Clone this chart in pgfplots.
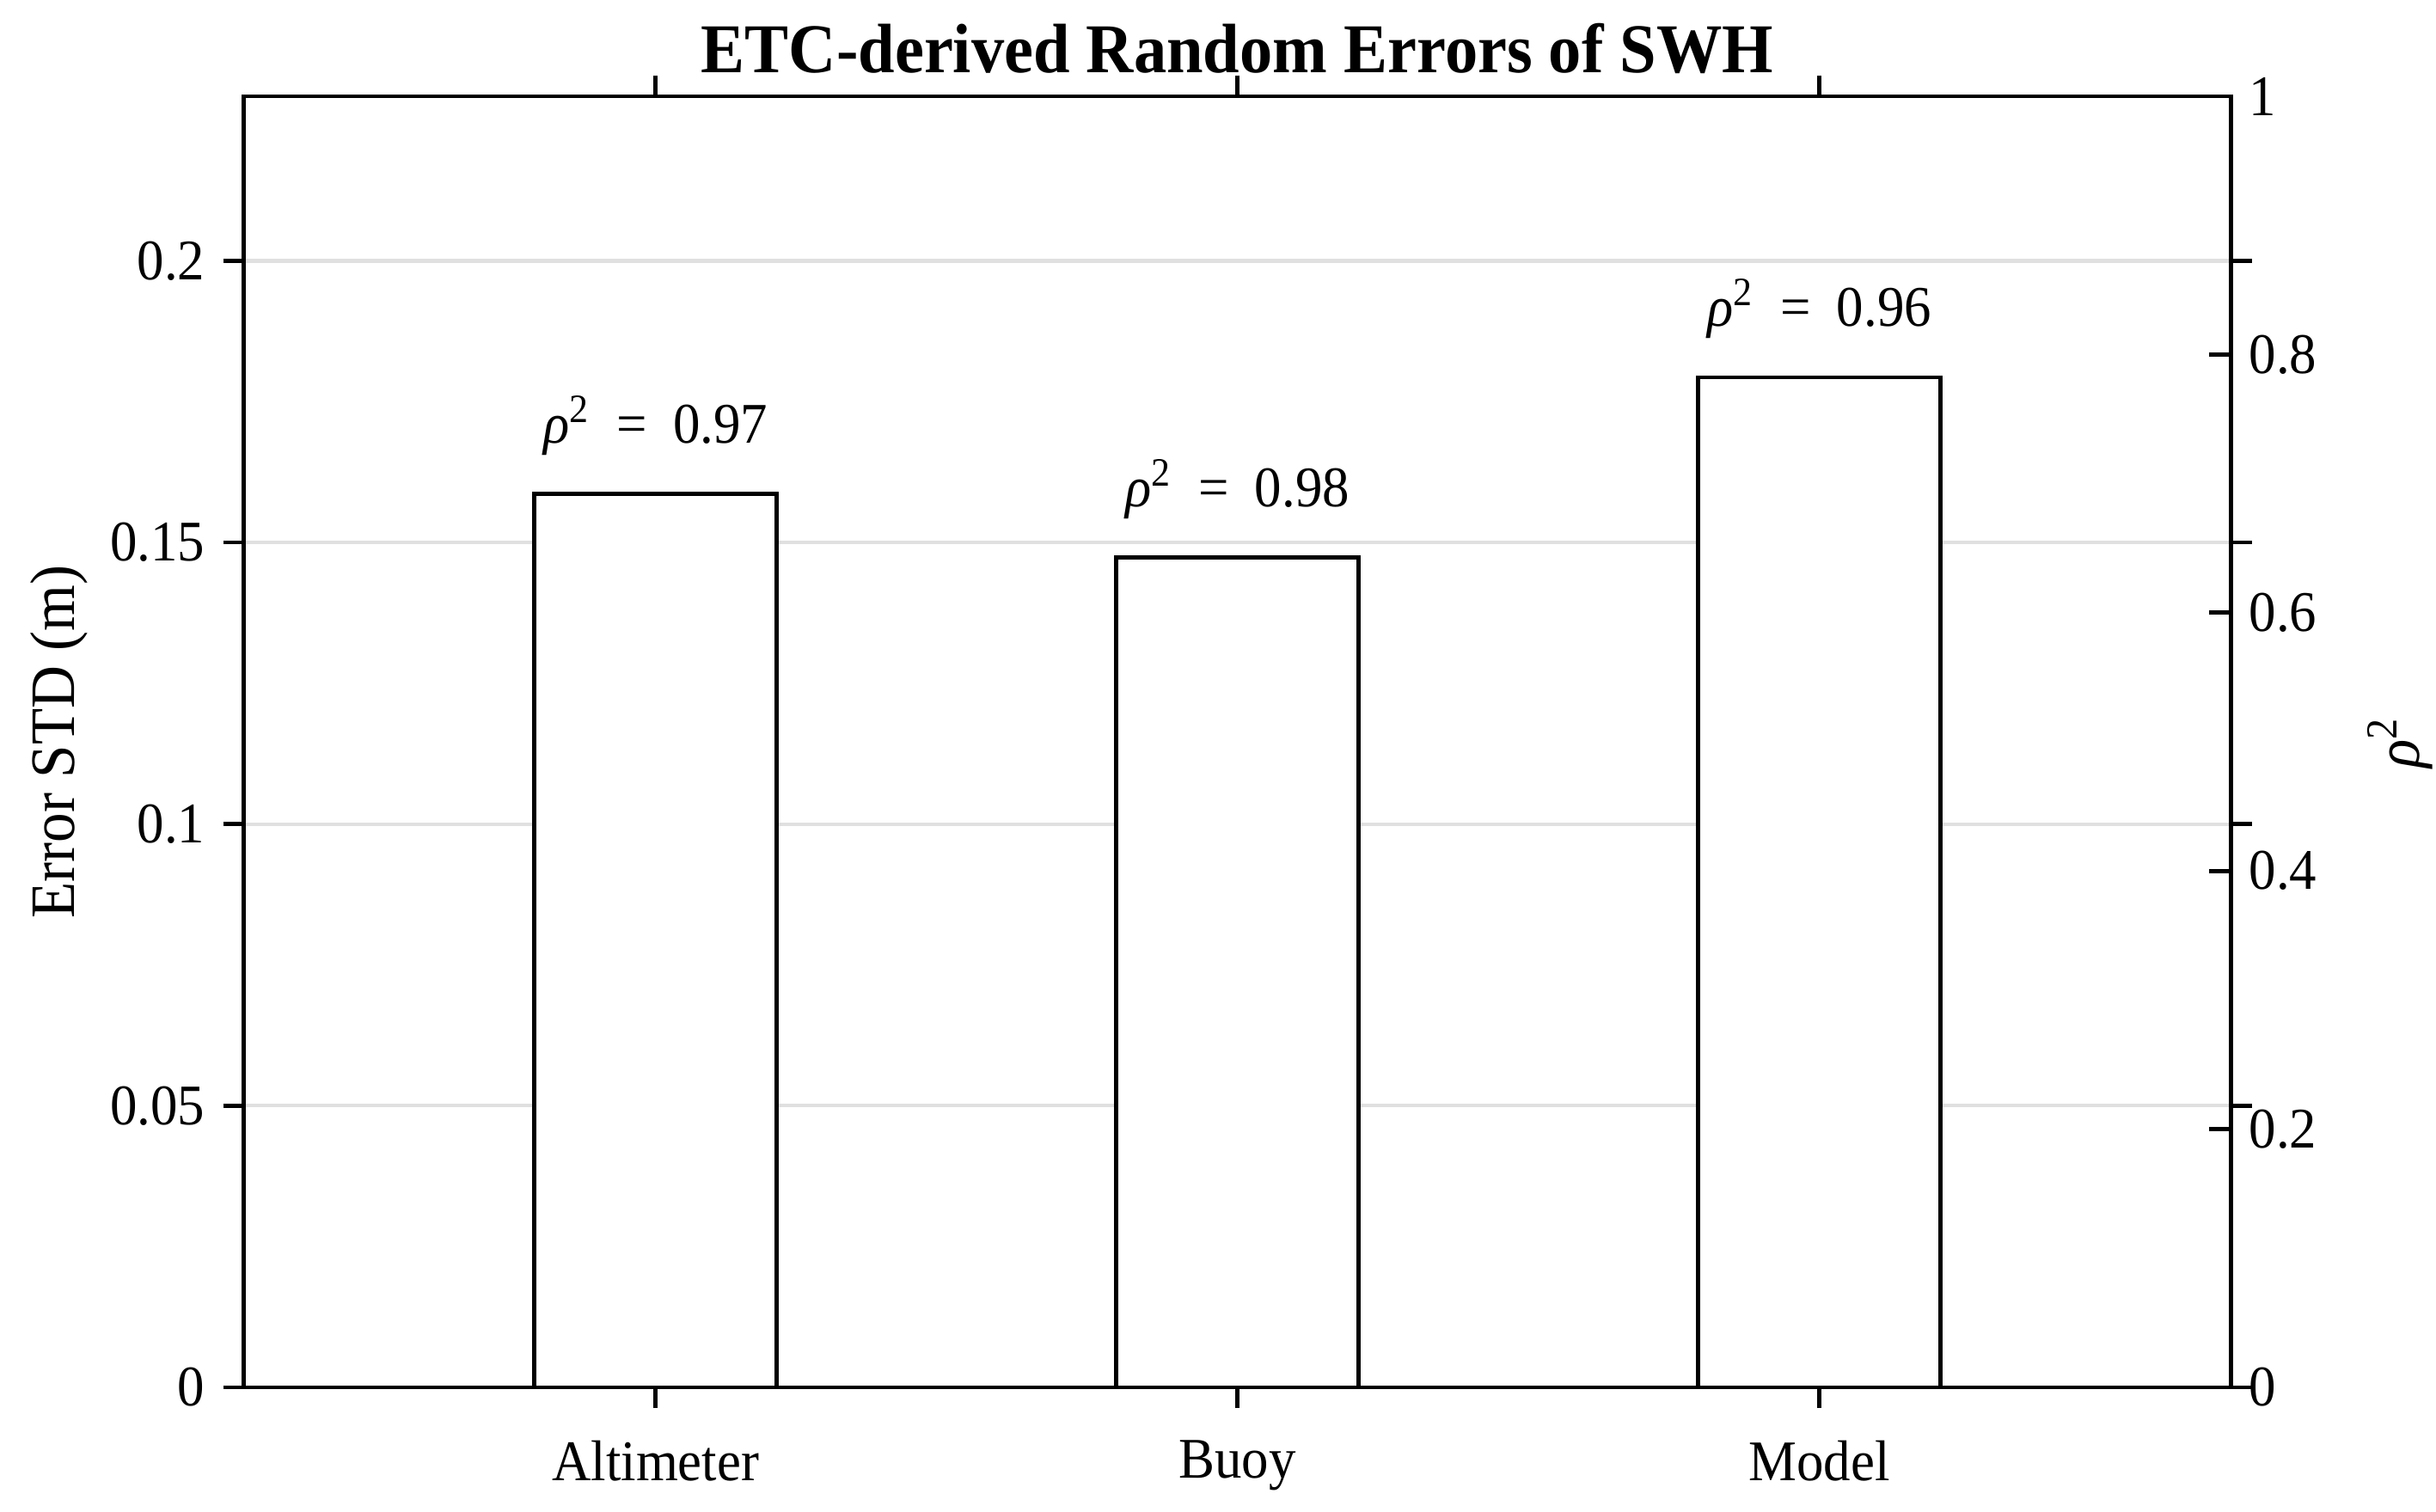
\documentclass[border=0pt]{standalone}
\usepackage{fontspec}
\setmainfont{Liberation Serif}[FakeStretch=0.94]
\usepackage{pgfplots}
\pgfplotsset{compat=1.18}
\definecolor{gridgray}{RGB}{224,224,224}

\begin{document}
\begin{tikzpicture}
% left axis: error STD bars
\begin{axis}[
    name=main,
    scale only axis,
    width=383.7pt, height=249.3pt,
    xmin=0.2925, xmax=3.7075,
    ymin=0, ymax=0.2292,
    xtick={1,2,3}, xticklabels={Altimeter,Buoy,Model},
    ytick={0,0.05,0.1,0.15,0.2}, yticklabels={0,0.05,0.1,0.15,0.2},
    tick align=outside,
    xtick pos=both, ytick pos=both,
    xticklabel pos=left, yticklabel pos=left,
    major tick length=4pt,
    ymajorgrids, grid style={gridgray, line width=0.7pt},
    axis line style={line width=0.8pt},
    every tick/.style={black, line width=0.8pt},
    tick label style={font=\fontsize{11.1}{13}\selectfont},
    xticklabel style={yshift=-2.7pt},
    ylabel={Error STD (m)},
    ylabel style={font=\fontsize{12.2}{14}\selectfont, at={(axis description cs:-0.093,0.5)}, anchor=center},
]
\addplot[ybar, bar width=46.8pt, fill=white, draw=black, line width=0.8pt,
    point meta=explicit symbolic,
    nodes near coords={\textit{ρ}\textsuperscript{2}\hspace{0.45em}=\hspace{0.45em}\pgfplotspointmeta},
    every node near coord/.style={font=\fontsize{11.1}{13}\selectfont, anchor=base, yshift=9.9pt}]
    coordinates {(1,0.1586) [0.97] (2,0.1473) [0.98] (3,0.1793) [0.96]};
\end{axis}
% right axis: rho^2 scale
\begin{axis}[
    scale only axis,
    width=383.7pt, height=249.3pt,
    xmin=0.2925, xmax=3.7075,
    ymin=0, ymax=1,
    axis x line=none, axis y line*=right,
    ytick={0,0.2,0.4,0.6,0.8,1}, yticklabels={0,0.2,0.4,0.6,0.8,1},
    tick align=inside,
    major tick length=4.3pt,
    axis line style={line width=0.8pt},
    every tick/.style={black, line width=0.8pt},
    tick label style={font=\fontsize{11.1}{13}\selectfont},
    ylabel={\textit{ρ}\textsuperscript{2}},
    ylabel style={font=\fontsize{12.2}{14}\selectfont, at={(axis description cs:1.0852,0.5)}, anchor=center},
]
\addplot[draw=none] coordinates {(1,0)};
\end{axis}
% title
\node[anchor=base, inner sep=0pt, font=\fontsize{13.5}{15}\selectfont\bfseries] at ([yshift=4.6pt]main.north) {ETC-derived Random Errors of SWH};
\pgfresetboundingbox
\path[use as bounding box] ([xshift=-47.1pt,yshift=-24pt]main.south west) rectangle ([xshift=39.6pt,yshift=18.6pt]main.north east);
\end{tikzpicture}
\end{document}
